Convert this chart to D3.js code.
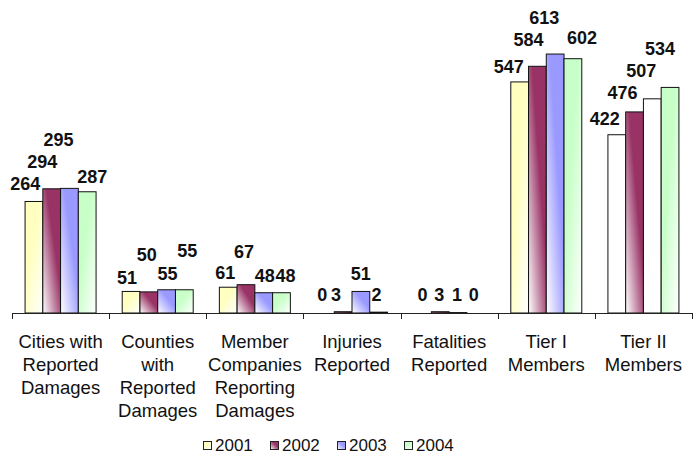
<!DOCTYPE html>
<html>
<head>
<meta charset="utf-8">
<script src="https://cdn.jsdelivr.net/npm/d3@7"></script>
<style>
  html, body { margin: 0; padding: 0; background: #fff; }
  svg { display: block; font-family: "Liberation Sans", Arial, sans-serif; }
</style>
</head>
<body>
<svg id="chart" width="699" height="459"></svg>
<script>
// ---- data ----
const categories = [
  "Cities with\nReported\nDamages",
  "Counties\nwith\nReported\nDamages",
  "Member\nCompanies\nReporting\nDamages",
  "Injuries\nReported",
  "Fatalities\nReported",
  "Tier I\nMembers",
  "Tier II\nMembers"
];
const seriesNames = ["2001", "2002", "2003", "2004"];
const values2001 = [264, 51, 61, 0, 0, 547, 422];
const values2002 = [294, 50, 67, 3, 3, 584, 476];
const values2003 = [295, 55, 48, 51, 1, 613, 507];
const values2004 = [287, 55, 48, 2, 0, 602, 534];
const seriesValues = [values2001, values2002, values2003, values2004];

// ---- layout / style (not data) ----
const seriesColors = ["#FFFFC0", "#993366", "#9999FF", "#C8FFC8"];
// manual label nudges (as placed in the original chart)
const labelDx = [
  [-8.6, -9.4, -11, 5], [-4, -2, 1, 3], [-3, -2, 1, 4], [-3, -7, 0, -2],
  [0, -1, -1, -2], [-11, -9, -11, 9], [-12, -12, -11, -10]
];
const labelGap = [
  [11.5, 21, 42, 9], [7.5, 31, 10, 33], [8, 27, 11, 11], [12, 11, 11.5, 11],
  [12, 11, 12, 12], [9, 20, 30, 14.6], [10, 13, 22, 32]
];
const plainBars = [[6, 0], [6, 2]]; // rendered without fill in the original

const svg = d3.select("#chart");
const baseY = 313;

const x = d3.scaleBand().domain(d3.range(categories.length)).range([12, 692]).padding(0);
const y = d3.scaleLinear().domain([0, 740]).range([baseY, 0.4]);
const groupW = 71;
const xs = d3.scaleBand().domain(d3.range(seriesNames.length)).range([0, groupW]).padding(0);

// gradients
const defs = svg.append("defs");
seriesColors.forEach((c, i) => {
  const diagRight = (i === 1 || i === 2);
  const g = defs.append("linearGradient").attr("id", "grad" + i)
    .attr("x1", diagRight ? 0 : 1).attr("y1", 1)
    .attr("x2", diagRight ? 1 : 0).attr("y2", 0);
  g.append("stop").attr("offset", 0).attr("stop-color", "#ffffff");
  g.append("stop").attr("offset", 0.6).attr("stop-color", c);
  g.append("stop").attr("offset", 1).attr("stop-color", c);
});

// bars
const rows = [];
categories.forEach((c, ci) => {
  seriesValues.forEach((vals, si) => rows.push({ ci, si, v: vals[ci] }));
});
const isPlain = d => plainBars.some(p => p[0] === d.ci && p[1] === d.si);
const barX = d => x(d.ci) + x.bandwidth() / 2 - groupW / 2 + xs(d.si);

svg.append("g").selectAll("rect").data(rows).join("rect")
  .attr("x", barX)
  .attr("y", d => y(d.v))
  .attr("width", xs.bandwidth())
  .attr("height", d => baseY - y(d.v))
  .attr("fill", d => isPlain(d) ? "#ffffff" : "url(#grad" + d.si + ")")
  .attr("stroke", "#111")
  .attr("stroke-width", 1);

// value labels
svg.append("g").selectAll("text").data(rows).join("text")
  .attr("x", d => barX(d) + xs.bandwidth() / 2 + labelDx[d.ci][d.si])
  .attr("y", d => y(d.v) - labelGap[d.ci][d.si])
  .attr("text-anchor", "middle")
  .attr("font-size", 18)
  .attr("font-weight", "bold")
  .attr("fill", "#111")
  .text(d => d.v);

// axis
const axisG = svg.append("g").attr("transform", `translate(0,${baseY})`)
  .call(d3.axisBottom(x).tickSize(0).tickFormat(""));
axisG.select(".domain").attr("stroke", "#222").attr("d", "M12,0.5H692");
const bounds = categories.map((c, i) => x(i)).concat([x.range()[1]]);
axisG.selectAll(".bound").data(bounds).join("line")
  .attr("class", "bound")
  .attr("x1", d => Math.round(d) + 0.5).attr("x2", d => Math.round(d) + 0.5)
  .attr("y1", 0).attr("y2", 6)
  .attr("stroke", "#222");

// category labels
const catG = svg.append("g");
categories.forEach((c, ci) => {
  const t = catG.append("text")
    .attr("x", x(ci) + x.bandwidth() / 2)
    .attr("y", 348)
    .attr("text-anchor", "middle")
    .attr("font-size", 18.5)
    .attr("fill", "#111");
  c.split("\n").forEach((line, li) => {
    t.append("tspan").attr("x", x(ci) + x.bandwidth() / 2)
      .attr("y", 348 + li * 23).text(line);
  });
});

// legend
const legendX = 203, legendPitch = 67;
const lg = svg.append("g").selectAll("g").data(seriesNames).join("g")
  .attr("transform", (d, i) => `translate(${legendX + i * legendPitch},441)`);
lg.append("rect").attr("x", 0.5).attr("y", 0.5).attr("width", 8).attr("height", 8)
  .attr("fill", (d, i) => "url(#grad" + i + ")").attr("stroke", "#222");
lg.append("text").attr("x", 12).attr("y", 9.5).attr("font-size", 17).attr("fill", "#111").text(d => d);
</script>
</body>
</html>
